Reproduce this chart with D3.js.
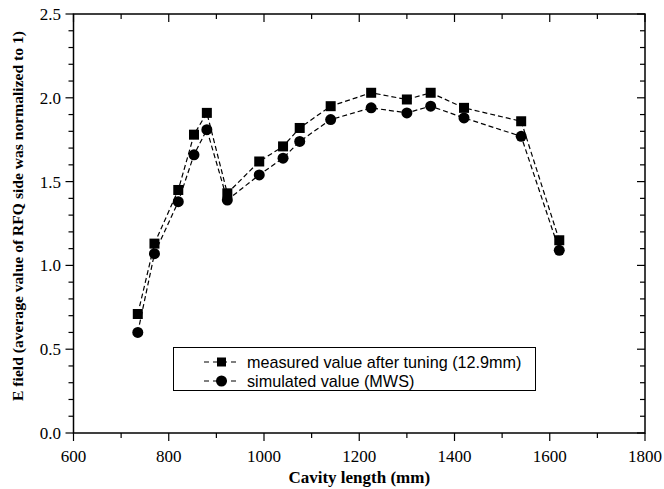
<!DOCTYPE html>
<html><head><meta charset="utf-8">
<script src="https://cdn.jsdelivr.net/npm/d3@7"></script>
<style>body{margin:0;background:#fff}svg{display:block}</style>
</head><body><svg id="c" width="664" height="489"></svg>
<script>
const cavityLength = [735, 770, 820, 853, 880, 923, 990, 1040, 1075, 1140, 1225, 1300, 1350, 1420, 1540, 1620];
const measured = [0.71, 1.13, 1.45, 1.78, 1.91, 1.43, 1.62, 1.71, 1.82, 1.95, 2.03, 1.99, 2.03, 1.94, 1.86, 1.15];
const simulated = [0.60, 1.07, 1.38, 1.66, 1.81, 1.39, 1.54, 1.64, 1.74, 1.87, 1.94, 1.91, 1.95, 1.88, 1.77, 1.09];
const xTicks = [600, 800, 1000, 1200, 1400, 1600, 1800];
const yTicks = [0.0, 0.5, 1.0, 1.5, 2.0, 2.5];
const seriesNames = ["measured value after tuning (12.9mm)", "simulated value (MWS)"];

const svg = d3.select("#c");
const L = 73.5, R = 645, T = 14, B = 433;
const x = d3.scaleLinear().domain([600, 1800]).range([L, R]);
const y = d3.scaleLinear().domain([0, 2.5]).range([B, T]);

const serif = "'Liberation Serif','Times New Roman',serif";
const sans = "'Liberation Sans',Arial,sans-serif";

// frame
svg.append("rect").attr("x", L).attr("y", T).attr("width", R - L).attr("height", B - T)
  .attr("fill", "none").attr("stroke", "#000").attr("stroke-width", 1.5);

const xMinor = d3.range(600, 1801, 100);
const yMinor = d3.range(0, 26).map(i => i / 10);
const g = svg.append("g").attr("stroke", "#000").attr("stroke-width", 1.2);
xMinor.forEach(v => {
  const major = xTicks.includes(v);
  const len = major ? 8 : 5;
  g.append("line").attr("x1", x(v)).attr("x2", x(v)).attr("y1", B).attr("y2", B + len);
  g.append("line").attr("x1", x(v)).attr("x2", x(v)).attr("y1", T).attr("y2", T + len);
});
yMinor.forEach(v => {
  const major = yTicks.some(t => Math.abs(t - v) < 1e-9);
  const len = major ? 8 : 5;
  g.append("line").attr("x1", L).attr("x2", L - len).attr("y1", y(v)).attr("y2", y(v));
  g.append("line").attr("x1", R).attr("x2", R - len).attr("y1", y(v)).attr("y2", y(v));
});

// tick labels
svg.append("g").selectAll("text").data(xTicks).join("text")
  .attr("x", d => x(d)).attr("y", 462).attr("text-anchor", "middle")
  .attr("font-family", serif).attr("font-size", 17).text(d => d);
svg.append("g").selectAll("text").data(yTicks).join("text")
  .attr("x", 61).attr("y", d => y(d)).attr("dy", "0.35em").attr("text-anchor", "end")
  .attr("font-family", serif).attr("font-size", 17).text(d => d.toFixed(1));

// titles
svg.append("text").attr("x", (L + R) / 2).attr("y", 483).attr("text-anchor", "middle")
  .attr("font-family", serif).attr("font-weight", "bold").attr("font-size", 17)
  .text("Cavity length (mm)");
svg.append("text").attr("transform", `translate(23,216) rotate(-90)`)
  .attr("text-anchor", "middle")
  .attr("font-family", serif).attr("font-weight", "bold").attr("font-size", 15.6)
  .text("E field (average value of RFQ side was normalized to 1)");

// lines
const line = d3.line().x(d => x(d[0])).y(d => y(d[1]));
const mData = cavityLength.map((c, i) => [c, measured[i]]);
const sData = cavityLength.map((c, i) => [c, simulated[i]]);
[mData, sData].forEach(d => {
  svg.append("path").attr("d", line(d)).attr("fill", "none").attr("stroke", "#000")
    .attr("stroke-width", 1.2).attr("stroke-dasharray", "5,3");
});
svg.append("g").selectAll("rect").data(mData).join("rect")
  .attr("x", d => x(d[0]) - 5).attr("y", d => y(d[1]) - 5).attr("width", 10).attr("height", 10).attr("fill", "#000");
svg.append("g").selectAll("circle").data(sData).join("circle")
  .attr("cx", d => x(d[0])).attr("cy", d => y(d[1])).attr("r", 5.5).attr("fill", "#000");

// legend
svg.append("rect").attr("x", 173.5).attr("y", 347.5).attr("width", 362).attr("height", 43)
  .attr("fill", "#fff").attr("stroke", "#000").attr("stroke-width", 1);
const ly = [362, 381];
seriesNames.forEach((name, i) => {
  svg.append("line").attr("x1", 204).attr("x2", 240).attr("y1", ly[i]).attr("y2", ly[i])
    .attr("stroke", "#000").attr("stroke-width", 1.2).attr("stroke-dasharray", "5,4");
  if (i === 0) svg.append("rect").attr("x", 217).attr("y", ly[i] - 4.5).attr("width", 9).attr("height", 9).attr("fill", "#000");
  else svg.append("circle").attr("cx", 221.5).attr("cy", ly[i]).attr("r", 5.5).attr("fill", "#000");
  svg.append("text").attr("x", 247).attr("y", ly[i]).attr("dy", "0.35em")
    .attr("font-family", sans).attr("font-size", 16.2).text(name);
});
</script></body></html>
